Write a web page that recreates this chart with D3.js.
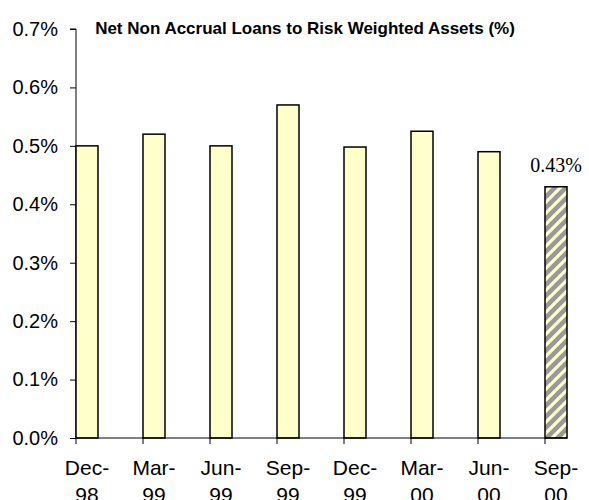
<!DOCTYPE html>
<html>
<head>
<meta charset="utf-8">
<script src="https://cdn.jsdelivr.net/npm/d3@7"></script>
<style>
  body { margin: 0; background: #fff; }
  text { font-family: Arial, "Liberation Sans", sans-serif; }
</style>
</head>
<body>
<div id="chart"></div>
<script>
// quarter labels (two lines each) and values in %
var quarters = ["Dec-98", "Mar-99", "Jun-99", "Sep-99", "Dec-99", "Mar-00", "Jun-00", "Sep-00"];
var ratios = [0.50, 0.52, 0.50, 0.57, 0.498, 0.525, 0.49, 0.43];
var yTicks = [0, 0.1, 0.2, 0.3, 0.4, 0.5, 0.6, 0.7];
var highlight = "Sep-00"; // hatched bar with a label

var width = 589, height = 500;
var margin = {top: 29, left: 76, bottom: 62};
var barW = 22;

var svg = d3.select("#chart").append("svg")
  .attr("width", width)
  .attr("height", height);

// hatch pattern for the latest quarter
var defs = svg.append("defs");
var pat = defs.append("pattern")
  .attr("id", "hatch")
  .attr("patternUnits", "userSpaceOnUse")
  .attr("width", 11)
  .attr("height", 11);
pat.append("rect").attr("width", 11).attr("height", 11).attr("fill", "#999999");
pat.append("path")
  .attr("d", "M-3,3 l6,-6 M0,11 l11,-11 M8,14 l6,-6")
  .attr("stroke", "#ffffcc")
  .attr("stroke-width", 3.2);

var x = d3.scaleBand()
  .domain(quarters)
  .range([margin.left, margin.left + 67 * quarters.length])
  .padding(0);

var y = d3.scaleLinear()
  .domain([0, 0.7])
  .range([height - margin.bottom, margin.top]);

// y axis
var yAxis = svg.append("g")
  .attr("transform", "translate(" + margin.left + ",0)")
  .call(d3.axisLeft(y)
    .tickValues(yTicks)
    .tickFormat(function(d) { return d.toFixed(1) + "%"; })
    .tickSize(6)
    .tickPadding(12));
yAxis.select(".domain").attr("d", "M-6," + y(0.7) + "H0V" + y(0));
yAxis.selectAll("text").style("font-size", "20px").attr("fill", "#000");
yAxis.selectAll("line").attr("stroke", "#000");

// bars
svg.selectAll(".bar")
  .data(quarters)
  .enter().append("rect")
  .attr("class", "bar")
  .attr("x", function(d) { return x(d); })
  .attr("width", barW)
  .attr("y", function(d, i) { return y(ratios[i]); })
  .attr("height", function(d, i) { return y(0) - y(ratios[i]); })
  .attr("fill", function(d) { return d == highlight ? "url(#hatch)" : "#ffffcc"; })
  .attr("stroke", "#000")
  .attr("stroke-width", 1.5);

// x axis line and ticks
svg.append("line")
  .attr("x1", margin.left)
  .attr("x2", x(quarters[quarters.length - 1]) + barW)
  .attr("y1", y(0)).attr("y2", y(0))
  .attr("stroke", "#000");
svg.selectAll(".xtick")
  .data(quarters)
  .enter().append("line")
  .attr("class", "xtick")
  .attr("x1", function(d) { return x(d); })
  .attr("x2", function(d) { return x(d); })
  .attr("y1", y(0)).attr("y2", y(0) + 6)
  .attr("stroke", "#000");

// x labels on two lines
var xl = svg.selectAll(".xlab")
  .data(quarters)
  .enter().append("text")
  .attr("class", "xlab")
  .attr("text-anchor", "middle")
  .style("font-size", "21px")
  .attr("y", y(0) + 37);
xl.append("tspan")
  .attr("x", function(d) { return x(d) + barW / 2; })
  .text(function(d) { return d.split("-")[0] + "-"; });
xl.append("tspan")
  .attr("x", function(d) { return x(d) + barW / 2; })
  .attr("dy", 27)
  .text(function(d) { return d.split("-")[1]; });

// value label on the hatched bar
var hi = quarters.indexOf(highlight);
svg.append("text")
  .attr("x", x(highlight) + barW / 2)
  .attr("y", y(ratios[hi]) - 15)
  .attr("text-anchor", "middle")
  .style("font-family", "'Liberation Serif', 'Times New Roman', serif")
  .style("font-size", "20px")
  .text(ratios[hi].toFixed(2) + "%");

// title
svg.append("text")
  .attr("x", 305)
  .attr("y", 34)
  .attr("text-anchor", "middle")
  .style("font-size", "17px")
  .style("font-weight", "bold")
  .text("Net Non Accrual Loans to Risk Weighted Assets (%)");
</script>
</body>
</html>
